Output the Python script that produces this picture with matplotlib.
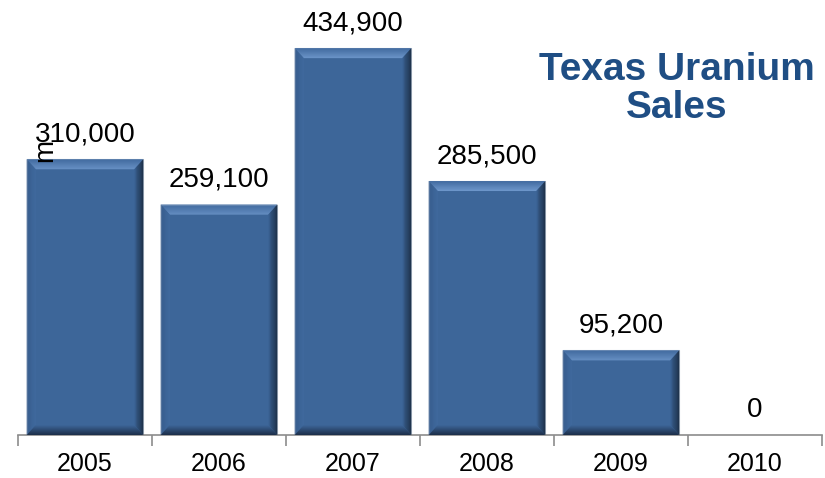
import matplotlib.pyplot as plt
import matplotlib.colors as mcolors
import numpy as np
from matplotlib.patches import Polygon

years = ["2005", "2006", "2007", "2008", "2009", "2010"]
sales = [310000, 259100, 434900, 285500, 95200, 0]
labels = ["310,000", "259,100", "434,900", "285,500", "95,200", "0"]

plt.rcParams['font.family'] = ['Liberation Sans', 'DejaVu Sans']

fig = plt.figure(figsize=(8.25, 4.78), dpi=100)
ax = fig.add_axes([18 / 825, 43 / 478, 804 / 825, 435 / 478])

bar_w = 0.87
face = "#3d6699"
x = range(len(years))
bars = ax.bar(x, sales, width=bar_w, color=face, edgecolor="#b4c2d4", linewidth=0.8, zorder=2)
ax.set_xlim(-0.5, 5.5)
ax.set_ylim(0, 489000)

# bevel edges, sizes in pixels converted to data units
px_x = 6.0 / 804
px_y = 489000 / 435
bx = 9 * px_x
by = 10 * px_y


def mix(c1, c2, t):
    a = np.array(mcolors.to_rgb(c1))
    b = np.array(mcolors.to_rgb(c2))
    return tuple(a + (b - a) * t)


sides = {
    "top": ("#416a9f", "#7099cd"),
    "left": ("#35598a", "#416b9f"),
    "right": ("#111c2c", face),
    "bottom": ("#1b2d48", face),
}
steps = 10
for b in bars:
    h = b.get_height()
    if h <= 0:
        continue
    x0, x1 = b.get_x(), b.get_x() + b.get_width()
    y0, y1 = 0, h
    for k in range(steps):
        t0, t1 = k / steps, (k + 1) / steps
        tm = (k + 0.5) / steps
        polys = {
            "top": [(x0 + t0 * bx, y1 - t0 * by), (x1 - t0 * bx, y1 - t0 * by),
                    (x1 - t1 * bx, y1 - t1 * by), (x0 + t1 * bx, y1 - t1 * by)],
            "left": [(x0 + t0 * bx, y0 + t0 * by), (x0 + t0 * bx, y1 - t0 * by),
                     (x0 + t1 * bx, y1 - t1 * by), (x0 + t1 * bx, y0 + t1 * by)],
            "right": [(x1 - t0 * bx, y0 + t0 * by), (x1 - t0 * bx, y1 - t0 * by),
                      (x1 - t1 * bx, y1 - t1 * by), (x1 - t1 * bx, y0 + t1 * by)],
            "bottom": [(x0 + t0 * bx, y0 + t0 * by), (x1 - t0 * bx, y0 + t0 * by),
                       (x1 - t1 * bx, y0 + t1 * by), (x0 + t1 * bx, y0 + t1 * by)],
        }
        for name, pts in polys.items():
            c_out, c_in = sides[name]
            ax.add_patch(Polygon(pts, closed=True, color=mix(c_out, c_in, tm), lw=0, zorder=3))

for i, (v, t) in enumerate(zip(sales, labels)):
    ax.text(i, v + 12 * px_y, t, ha="center", va="bottom", fontsize=20, color="black")

ax.set_xticks(list(x))
ax.set_xticklabels(years, fontsize=18)
ax.tick_params(axis="x", which="major", length=0, pad=12)
ax.set_xticks([i - 0.5 for i in range(len(years) + 1)], minor=True)
ax.tick_params(axis="x", which="minor", length=8, color="#8c8c8c", width=1.2, direction="out")
ax.set_yticks([])
for s in ["top", "right", "left"]:
    ax.spines[s].set_visible(False)
ax.spines["bottom"].set_color("#8c8c8c")
ax.spines["bottom"].set_linewidth(1.2)

ax.text(0.034, 0.655, "m", rotation=90, fontsize=20, transform=ax.transAxes, ha="center", va="center")

fig.text(677 / 825, 1 - 89 / 478, "Texas Uranium\nSales", ha="center", va="center",
         fontsize=28, fontweight="bold", color="#1f4e84", linespacing=1.05)

fig.savefig("out.png", dpi=100)
